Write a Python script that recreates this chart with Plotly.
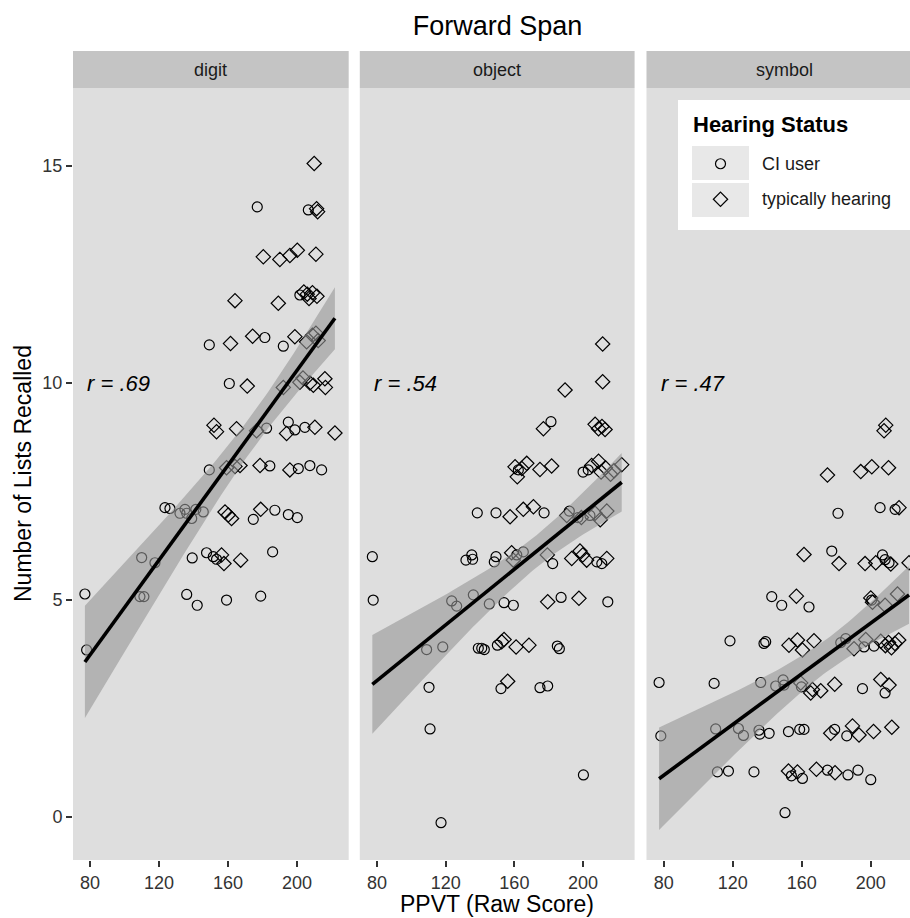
import numpy as np
import plotly.graph_objects as go

FONT = "Liberation Sans"

panels = ["digit", "object", "symbol"]
r_labels = ["r = .69", "r = .54", "r = .47"]
groups = ["CI user", "typically hearing"]
x_ticks = [80, 120, 160, 200]
y_ticks = [0, 5, 10, 15]
r_pos = (77, 10)

# ---------------- digit ----------------
digit_ci_x = [177.0, 206.6, 201.7, 149.2, 181.4, 192.1, 160.8, 182.4, 195.0, 198.8, 204.6,
              149.2, 184.3, 200.8, 207.5, 214.3, 123.5, 126.4, 132.2, 135.1, 136.1, 139.0,
              141.4, 145.7, 174.7, 187.2, 195.0, 200.2, 110.0, 117.7, 139.3, 147.6, 151.5,
              153.4, 185.9, 77.1, 109.0, 111.3, 136.1, 142.2, 159.2, 179.0, 78.1]
digit_ci_y = [14.06, 13.99, 12.03, 10.88, 11.05, 10.85, 9.99, 8.96, 9.10, 8.92, 8.98,
              8.00, 8.09, 8.03, 8.10, 8.00, 7.13, 7.11, 7.00, 7.09, 7.00, 6.88,
              7.09, 7.03, 6.86, 7.07, 6.97, 6.90, 5.98, 5.86, 5.97, 6.09, 6.00,
              5.94, 6.11, 5.14, 5.08, 5.08, 5.13, 4.88, 5.00, 5.09, 3.85]
digit_th_x = [210.0, 211.4, 212.0, 180.5, 190.1, 195.9, 200.2, 211.0, 164.1, 189.2, 204.0,
              206.0, 207.0, 209.0, 211.6, 161.5, 174.3, 198.8, 205.6, 209.0, 211.0, 212.3,
              171.2, 192.1, 201.7, 203.5, 207.5, 209.5, 216.2, 216.5, 151.9, 153.4, 165.0,
              176.6, 194.0, 210.4, 222.0, 159.2, 164.1, 167.0, 178.6, 195.9, 158.3, 160.2,
              162.1, 179.0, 156.3, 157.7, 167.4]
digit_th_y = [15.06, 14.02, 13.95, 12.91, 12.85, 12.94, 13.06, 12.97, 11.90, 11.84, 12.10,
              12.05, 11.95, 12.08, 12.00, 10.91, 11.08, 11.07, 10.95, 11.10, 11.15, 10.98,
              9.93, 9.90, 10.02, 10.12, 10.00, 9.95, 10.10, 9.90, 9.03, 8.88, 8.95,
              8.90, 8.84, 8.98, 8.85, 8.05, 8.08, 8.10, 8.10, 8.00, 7.03, 6.96,
              6.88, 7.09, 6.04, 5.84, 5.92]

# ---------------- object ----------------
object_ci_x = [181.3, 162.3, 200.0, 203.0, 138.4, 149.3, 177.3, 192.0, 197.0, 204.0, 77.3,
               131.8, 135.2, 135.7, 148.3, 149.3, 161.4, 165.2, 182.3, 208.0, 210.9, 77.8,
               123.5, 126.4, 136.1, 145.4, 154.0, 159.4, 187.2, 214.4, 108.9, 118.3, 139.0,
               141.0, 142.5, 150.1, 185.0, 186.2, 110.3, 152.2, 174.9, 179.4, 110.9, 200.2,
               117.3]
object_ci_y = [9.11, 8.00, 7.95, 8.00, 7.01, 7.01, 7.01, 7.05, 6.90, 6.95, 6.00,
               5.92, 6.04, 5.94, 5.88, 6.00, 6.04, 6.11, 5.84, 5.88, 5.84, 5.00,
               4.98, 4.86, 5.12, 4.91, 4.94, 4.88, 5.06, 4.96, 3.86, 3.92, 3.89,
               3.89, 3.86, 3.96, 3.94, 3.88, 2.99, 2.96, 2.98, 3.02, 2.03, 0.97,
               -0.13]
object_th_x = [211.4, 211.4, 189.5, 176.9, 207.0, 209.0, 211.0, 212.8, 160.4, 161.7, 164.3,
               167.2, 174.9, 181.7, 205.0, 209.0, 210.5, 213.0, 216.0, 218.0, 222.5, 157.5,
               165.2, 171.1, 190.5, 199.0, 207.0, 210.0, 213.8, 158.4, 159.4, 179.2, 193.4,
               198.2, 199.8, 202.1, 213.8, 179.4, 197.6, 152.6, 154.0, 161.0, 168.5, 156.1]
object_th_y = [10.90, 10.03, 9.84, 8.95, 9.05, 8.95, 9.00, 8.93, 8.07, 7.84, 8.03,
               8.15, 8.01, 8.09, 8.10, 8.20, 7.95, 8.05, 7.90, 7.98, 8.12, 6.92,
               7.09, 7.15, 6.95, 6.90, 7.00, 6.85, 7.05, 6.09, 5.92, 6.04, 5.96,
               6.13, 6.04, 5.92, 5.96, 4.96, 5.04, 4.04, 4.09, 3.92, 3.96, 3.13]

# ---------------- symbol ----------------
symbol_ci_x = [181.0, 205.4, 214.1, 177.4, 206.8, 208.3, 210.6, 142.6, 148.4, 164.2, 200.5,
               118.4, 138.1, 139.1, 182.6, 185.5, 196.1, 201.9, 77.3, 109.2, 136.2, 144.9,
               149.2, 149.7, 159.8, 195.2, 208.3, 78.3, 110.1, 123.3, 126.2, 135.2, 135.7,
               141.1, 152.3, 158.8, 161.3, 179.1, 186.1, 111.1, 117.5, 132.3, 154.0, 160.4,
               174.9, 186.8, 192.6, 200.0, 150.3]
symbol_ci_y = [7.00, 7.13, 7.09, 6.13, 6.04, 5.93, 5.86, 5.08, 4.88, 4.84, 5.00,
               4.06, 4.00, 4.04, 4.02, 4.11, 3.92, 3.94, 3.10, 3.08, 3.10, 3.02,
               3.16, 3.04, 3.00, 2.96, 2.86, 1.87, 2.03, 2.04, 1.88, 2.00, 1.91,
               1.93, 1.97, 2.02, 2.02, 2.02, 1.87, 1.04, 1.06, 1.04, 0.95, 0.89,
               1.08, 0.97, 1.08, 0.86, 0.10]
symbol_th_x = [208.7, 207.7, 174.9, 194.2, 200.6, 210.3, 216.4, 161.3, 181.6, 196.7, 202.9,
               211.6, 222.2, 156.9, 200.0, 201.0, 208.3, 215.5, 152.6, 157.5, 160.4, 167.1,
               190.3, 197.1, 205.8, 208.5, 210.3, 212.0, 214.0, 216.2, 159.4, 165.2, 166.2,
               171.0, 179.1, 205.8, 210.6, 176.8, 189.4, 193.2, 201.6, 212.2, 152.3, 157.5,
               168.5, 179.3]
symbol_th_y = [9.03, 8.90, 7.88, 7.96, 8.07, 8.05, 7.13, 6.05, 5.84, 5.84, 5.86,
               5.83, 5.86, 5.09, 5.05, 4.95, 4.88, 5.14, 3.96, 4.08, 3.85, 4.06,
               3.88, 4.09, 4.05, 3.95, 4.02, 3.90, 4.00, 4.08, 3.09, 2.86, 2.94,
               2.91, 3.06, 3.17, 3.04, 1.93, 2.10, 1.89, 1.97, 2.07, 1.06, 1.04,
               1.10, 1.02]

data = {
    "digit": (digit_ci_x, digit_ci_y, digit_th_x, digit_th_y),
    "object": (object_ci_x, object_ci_y, object_th_x, object_th_y),
    "symbol": (symbol_ci_x, symbol_ci_y, symbol_th_x, symbol_th_y),
}


def lm_band(x, y, t=1.984, n_pts=80):
    x = np.asarray(x, float)
    y = np.asarray(y, float)
    n = len(x)
    b, a = np.polyfit(x, y, 1)
    s = np.sqrt(np.sum((y - (a + b * x)) ** 2) / (n - 2))
    xs = np.linspace(x.min(), x.max(), n_pts)
    xbar = x.mean()
    sxx = np.sum((x - xbar) ** 2)
    se = s * np.sqrt(1.0 / n + (xs - xbar) ** 2 / sxx)
    fit = a + b * xs
    return xs, fit, fit - t * se, fit + t * se


# ---------------- layout geometry (pixels) ----------------
W, H = 910, 918
ML, MR, MT, MB = 73, 0, 88, 58
PW, PH = W - ML - MR, H - MT - MB


def px_x(px):
    return min(1.0, max(0.0, (px - ML) / PW))


def px_xu(px):
    return (px - ML) / PW


def px_y(py):
    return (H - MB - py) / PH


panel_px = [(73.0, 348.7), (359.8, 634.6), (646.5, 910.0)]
x_ranges = [[70.2, 230], [70, 230], [70, 222.75]]
y_range = [-0.99, 16.80]
strip_centers_px = [210.7, 497.2, 784.5]

PANEL_BG = "#DEDEDE"
STRIP_BG = "#C4C4C4"
BAND = "rgba(150,150,150,0.6)"
TXT = "#1A1A1A"
TICKTXT = "#333333"

fig = go.Figure()

for i, p in enumerate(panels):
    ax = "" if i == 0 else str(i + 1)
    cx, cy, tx, ty = data[p]
    fig.add_trace(go.Scatter(
        x=cx, y=cy, mode="markers", name=groups[0], showlegend=False,
        marker=dict(symbol="circle-open", size=10, color="black", line=dict(width=1.2, color="black")),
        xaxis="x" + ax, yaxis="y" + ax))
    fig.add_trace(go.Scatter(
        x=tx, y=ty, mode="markers", name=groups[1], showlegend=False,
        marker=dict(symbol="diamond-open", size=11, color="black", line=dict(width=1.2, color="black")),
        xaxis="x" + ax, yaxis="y" + ax))
    xs, fit, lo, hi = lm_band(list(cx) + list(tx), list(cy) + list(ty))
    fig.add_trace(go.Scatter(
        x=np.concatenate([xs, xs[::-1]]), y=np.concatenate([hi, lo[::-1]]),
        fill="toself", fillcolor=BAND, line=dict(width=0), mode="lines",
        hoverinfo="skip", showlegend=False, xaxis="x" + ax, yaxis="y" + ax))
    fig.add_trace(go.Scatter(
        x=xs, y=fit, mode="lines", line=dict(color="black", width=3.6),
        showlegend=False, xaxis="x" + ax, yaxis="y" + ax))

# legend markers (own hidden axes, category positions)
fig.add_trace(go.Scatter(
    x=["key"], y=[groups[0]], mode="markers", showlegend=False, hoverinfo="skip",
    marker=dict(symbol="circle-open", size=10, color="black", line=dict(width=1.2, color="black")),
    xaxis="x4", yaxis="y4", cliponaxis=False))
fig.add_trace(go.Scatter(
    x=["key"], y=[groups[1]], mode="markers", showlegend=False, hoverinfo="skip",
    marker=dict(symbol="diamond-open", size=11, color="black", line=dict(width=1.2, color="black")),
    xaxis="x4", yaxis="y4", cliponaxis=False))

shapes = []
annotations = []

# panel backgrounds and strips
for i, p in enumerate(panels):
    x0, x1 = px_x(panel_px[i][0]), px_x(panel_px[i][1])
    shapes.append(dict(type="rect", xref="paper", yref="paper", x0=x0, x1=x1,
                       y0=0, y1=1, fillcolor=PANEL_BG, line=dict(width=0), layer="below"))
    shapes.append(dict(type="rect", xref="paper", yref="paper", x0=x0, x1=x1,
                       y0=px_y(88), y1=px_y(51), fillcolor=STRIP_BG, line=dict(width=0), layer="below"))
    annotations.append(dict(text=p, xref="paper", yref="paper", x=px_xu(strip_centers_px[i]),
                            y=px_y(70), xanchor="center", yanchor="middle", showarrow=False,
                            font=dict(family=FONT, size=18, color=TXT)))
    ax = "" if i == 0 else str(i + 1)
    annotations.append(dict(text="<i>" + r_labels[i] + "</i>", xref="x" + ax, yref="y" + ax,
                            x=r_pos[0], y=r_pos[1], xanchor="left", yanchor="middle",
                            showarrow=False, font=dict(family=FONT, size=22, color="black")))

# legend box
shapes.append(dict(type="rect", xref="paper", yref="paper", x0=px_xu(678), x1=px_xu(912),
                   y0=px_y(230), y1=px_y(100), fillcolor="white", line=dict(width=0), layer="below"))
for (k0, k1) in [(146, 180), (183, 217)]:
    shapes.append(dict(type="rect", xref="paper", yref="paper", x0=px_xu(692), x1=px_xu(749),
                       y0=px_y(k1), y1=px_y(k0), fillcolor="#E8E8E8", line=dict(width=0), layer="below"))
annotations.append(dict(text="<b>Hearing Status</b>", xref="paper", yref="paper", x=px_xu(691),
                        y=px_y(124), xanchor="left", yanchor="middle", showarrow=False,
                        font=dict(family=FONT, size=22, color="black")))
for g in groups:
    annotations.append(dict(text=g, xref="paper", yref="y4", x=px_xu(760), y=g,
                            xanchor="left", yanchor="middle", showarrow=False,
                            font=dict(family=FONT, size=18, color=TXT)))

# axis titles
annotations.append(dict(text="PPVT (Raw Score)", xref="paper", yref="paper", x=px_xu(497),
                        y=px_y(904), xanchor="center", yanchor="middle", showarrow=False,
                        font=dict(family=FONT, size=23, color="black")))
annotations.append(dict(text="Number of Lists Recalled", xref="paper", yref="paper", x=px_xu(23),
                        y=0.5, xanchor="center", yanchor="middle", showarrow=False, textangle=-90,
                        font=dict(family=FONT, size=23, color="black")))

layout = dict(
    width=W, height=H,
    margin=dict(l=ML, r=MR, t=MT, b=MB, pad=0),
    paper_bgcolor="white", plot_bgcolor="rgba(0,0,0,0)",
    showlegend=False,
    title=dict(text="Forward Span", x=px_xu(497.5), xref="paper", xanchor="center",
               y=1 - 26 / H, yref="container", yanchor="middle",
               font=dict(family=FONT, size=27, color="black")),
    shapes=shapes, annotations=annotations,
    font=dict(family=FONT),
)

for i in range(3):
    key = "" if i == 0 else str(i + 1)
    layout["xaxis" + key] = dict(
        domain=[px_x(panel_px[i][0]), px_x(panel_px[i][1])], range=x_ranges[i],
        anchor="y" + key, tickmode="array", tickvals=x_ticks, ticks="outside", ticklen=6,
        tickwidth=1.5, tickcolor="#333333", showgrid=False, zeroline=False, showline=False,
        tickfont=dict(family=FONT, size=18, color=TICKTXT), fixedrange=True)
    layout["yaxis" + key] = dict(
        domain=[0, 1], range=y_range, anchor="x" + key, tickmode="array", tickvals=y_ticks,
        ticks="outside" if i == 0 else "", ticklen=6, tickwidth=1.5, tickcolor="#333333",
        showticklabels=(i == 0), showgrid=False, zeroline=False, showline=False,
        tickfont=dict(family=FONT, size=18, color=TICKTXT), fixedrange=True)

layout["xaxis4"] = dict(domain=[px_x(692), px_x(749)], anchor="y4", type="category",
                        categoryorder="array", categoryarray=["key"], visible=False, fixedrange=True)
layout["yaxis4"] = dict(domain=[px_y(217), px_y(146)], anchor="x4", type="category",
                        categoryorder="array", categoryarray=[groups[1], groups[0]],
                        range=[-0.5, 1.5], visible=False, fixedrange=True)

fig.update_layout(**layout)
fig.write_html("out.html",
               config={"displayModeBar": False},
               post_script="document.body.style.margin='0';document.body.style.padding='0';")
